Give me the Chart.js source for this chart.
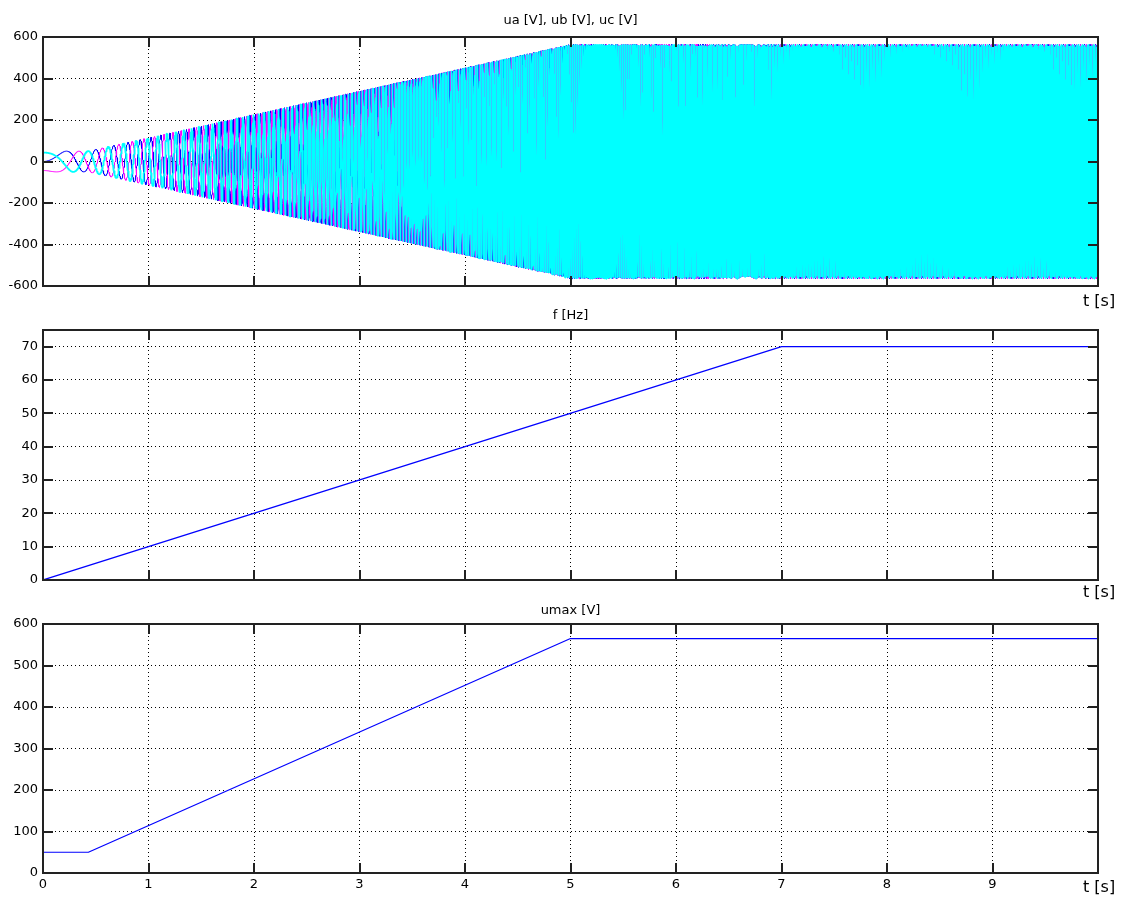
<!DOCTYPE html>
<html>
<head>
<meta charset="utf-8">
<script src="https://cdn.jsdelivr.net/npm/chart.js@4.4.0/dist/chart.umd.min.js"></script>
<style>
  html, body { margin: 0; padding: 0; background: #fff; }
  .panel { position: absolute; left: 0; width: 1121px; }
</style>
</head>
<body>
<div class="panel" style="top:0;height:310px"><canvas id="uChart"></canvas></div>
<div class="panel" style="top:300px;height:310px"><canvas id="fChart"></canvas></div>
<div class="panel" style="top:600px;height:297px"><canvas id="umaxChart"></canvas></div>
<script>
// breakpoints
const fTime = [0, 7, 10];
const fValue = [0, 70, 70];
const umaxTime = [0, 0.43, 5, 10];
const umaxValue = [50, 50, 565, 565];

// three phases: ua, ub, uc
const phaseNames = ["ua", "ub", "uc"];
const phaseShiftDeg = [0, -120, 120];
const phaseColors = ["#0000ff", "#ff00ff", "#00ffff"];
const phaseWidths = [1, 1, 1.8];

const xTicks = [0, 1, 2, 3, 4, 5, 6, 7, 8, 9, 10];
const uTicks = [-600, -400, -200, 0, 200, 400, 600];
const fTicks = [0, 10, 20, 30, 40, 50, 60, 70];
const umaxTicks = [0, 100, 200, 300, 400, 500, 600];

const sampleStep = 0.001;

function lookup(ts, vs, t) {
  for (let i = 1; i < ts.length; i++) {
    if (t <= ts[i]) {
      const k = (t - ts[i - 1]) / (ts[i] - ts[i - 1]);
      return vs[i - 1] + k * (vs[i] - vs[i - 1]);
    }
  }
  return vs[vs.length - 1];
}

// ua/ub/uc follow from the two read curves: amplitude umax, angle = integral of 2*pi*f
const phaseData = [[], [], []];
let theta = 0;
const nSamples = Math.round(10 / sampleStep);
for (let i = 0; i <= nSamples; i++) {
  const t = i * sampleStep;
  if (i > 0) {
    theta += Math.PI * (lookup(fTime, fValue, t - sampleStep) + lookup(fTime, fValue, t)) * sampleStep;
  }
  const amp = lookup(umaxTime, umaxValue, t);
  for (let p = 0; p < 3; p++) {
    phaseData[p].push({ x: t, y: amp * Math.sin(theta + phaseShiftDeg[p] * Math.PI / 180) });
  }
}

const FONT = "DejaVu Sans";

const matlabAxes = {
  id: "matlabAxes",
  afterDraw(chart, args, opts) {
    const { ctx, chartArea: a, scales } = chart;
    ctx.save();
    ctx.strokeStyle = "#222";
    ctx.lineWidth = 2;
    ctx.beginPath();
    scales.x.ticks.forEach(t => {
      const px = Math.round(scales.x.getPixelForValue(t.value));
      ctx.moveTo(px, a.top); ctx.lineTo(px, a.top + 10);
      ctx.moveTo(px, a.bottom); ctx.lineTo(px, a.bottom - 10);
    });
    scales.y.ticks.forEach(t => {
      const py = Math.round(scales.y.getPixelForValue(t.value));
      ctx.moveTo(a.left, py); ctx.lineTo(a.left + 10, py);
      ctx.moveTo(a.right, py); ctx.lineTo(a.right - 10, py);
    });
    ctx.stroke();
    ctx.strokeRect(a.left, a.top, a.right - a.left, a.bottom - a.top);

    ctx.fillStyle = "#000";
    ctx.font = "13px '" + FONT + "'";
    ctx.textAlign = "center";
    ctx.textBaseline = "middle";
    ctx.fillText(opts.title, (a.left + a.right) / 2, a.top - opts.titleGap);

    ctx.font = "16px '" + FONT + "'";
    ctx.textAlign = "left";
    ctx.fillText("t [s]", 1083, a.bottom + opts.tLabelGap);
    ctx.restore();
  }
};

function makeOptions(cfg) {
  return {
    responsive: true,
    maintainAspectRatio: false,
    animation: false,
    layout: { padding: { top: cfg.padTop, right: 23, bottom: 0, left: 0 } },
    plugins: {
      legend: { display: false },
      tooltip: { enabled: false },
      matlabAxes: { title: cfg.title, titleGap: cfg.titleGap, tLabelGap: cfg.tLabelGap }
    },
    elements: { point: { radius: 0 }, line: { tension: 0, borderJoinStyle: "bevel" } },
    scales: {
      x: {
        type: "linear",
        min: 0,
        max: 10,
        afterBuildTicks: s => { s.ticks = xTicks.map(v => ({ value: v })); },
        afterFit: s => { s.height = cfg.xHeight; },
        ticks: {
          display: cfg.showX,
          padding: 4,
          color: "#000",
          font: { family: FONT, size: 13 },
          callback: v => (v === 10 ? "" : v)
        },
        grid: { color: "#000", drawTicks: false },
        border: { display: false, dash: [1, 3] }
      },
      y: {
        type: "linear",
        min: cfg.yMin,
        max: cfg.yMax,
        afterBuildTicks: s => { s.ticks = cfg.yTicks.map(v => ({ value: v })); },
        afterFit: s => { s.width = 43; },
        ticks: {
          padding: 5,
          color: "#000",
          font: { family: FONT, size: 13 }
        },
        grid: { color: "#000", drawTicks: false },
        border: { display: false, dash: [1, 3] }
      }
    }
  };
}

new Chart(document.getElementById("uChart"), {
  type: "line",
  data: {
    datasets: phaseNames.map((name, p) => ({
      label: name,
      data: phaseData[p],
      borderColor: phaseColors[p],
      borderWidth: phaseWidths[p],
      order: 2 - p
    }))
  },
  options: makeOptions({
    title: "ua [V], ub [V], uc [V]",
    padTop: 37, xHeight: 24, showX: false, titleGap: 16, tLabelGap: 16,
    yMin: -600, yMax: 600, yTicks: uTicks
  }),
  plugins: [matlabAxes]
});

new Chart(document.getElementById("fChart"), {
  type: "line",
  data: {
    datasets: [{
      label: "f",
      data: fTime.map((t, i) => ({ x: t, y: fValue[i] })),
      borderColor: "#0000ff",
      borderWidth: 1.2
    }]
  },
  options: makeOptions({
    title: "f [Hz]",
    padTop: 30, xHeight: 30, showX: false, titleGap: 14, tLabelGap: 13,
    yMin: 0, yMax: 75, yTicks: fTicks
  }),
  plugins: [matlabAxes]
});

new Chart(document.getElementById("umaxChart"), {
  type: "line",
  data: {
    datasets: [{
      label: "umax",
      data: umaxTime.map((t, i) => ({ x: t, y: umaxValue[i] })),
      borderColor: "#0000ff",
      borderWidth: 1.2
    }]
  },
  options: makeOptions({
    title: "umax [V]",
    padTop: 24, xHeight: 24, showX: true, titleGap: 13, tLabelGap: 15,
    yMin: 0, yMax: 600, yTicks: umaxTicks
  }),
  plugins: [matlabAxes]
});
</script>
</body>
</html>
